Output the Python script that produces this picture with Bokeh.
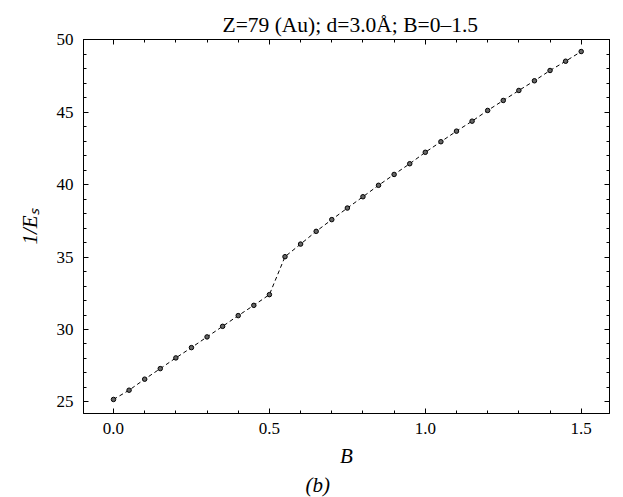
from bokeh.plotting import figure
from bokeh.models import (LinearAxis, SingleIntervalTicker, Range1d, Title,
                          PrintfTickFormatter, ColumnDataSource)
from bokeh.embed import file_html
from bokeh.resources import INLINE

# ---- data ----
B_values = [0.00, 0.05, 0.10, 0.15, 0.20, 0.25, 0.30, 0.35, 0.40, 0.45, 0.50,
            0.55, 0.60, 0.65, 0.70, 0.75, 0.80, 0.85, 0.90, 0.95, 1.00,
            1.05, 1.10, 1.15, 1.20, 1.25, 1.30, 1.35, 1.40, 1.45, 1.50]
inv_Es = [25.17, 25.81, 26.57, 27.30, 28.04, 28.75, 29.49, 30.22, 30.96, 31.67, 32.41,
          35.03, 35.90, 36.78, 37.59, 38.39, 39.17, 39.96, 40.71, 41.45, 42.24,
          42.97, 43.70, 44.39, 45.13, 45.82, 46.51, 47.18, 47.89, 48.53, 49.20]
x_ticks_interval = 0.5
y_ticks_interval = 5
title_text = "Z=79 (Au); d=3.0Å; B=0–1.5"
x_label = "B"
y_label = "1/Eₛ"
caption_text = "(b)"

FONT = "Liberation Serif"

X0, X1 = -0.0962, 1.5907
Y0, Y1 = 24.2, 50.03
W, H = 615, 497
FL, FR, FT, FB = 83, 609, 39, 413   # frame on the canvas

p = figure(width=W, height=H, output_backend="svg", toolbar_location=None,
           x_range=Range1d(X0, X1), y_range=Range1d(Y0, Y1),
           min_border_left=FL, min_border_top=FT,
           min_border_right=W - FR, min_border_bottom=H - FB,
           x_axis_location=None, y_axis_location=None)
p.grid.visible = False
p.outline_line_color = "black"
p.outline_line_width = 1
p.background_fill_color = "white"
p.border_fill_color = "white"

xt = SingleIntervalTicker(interval=x_ticks_interval, num_minor_ticks=5)
yt = SingleIntervalTicker(interval=y_ticks_interval, num_minor_ticks=5)

xaxis = LinearAxis(ticker=xt, formatter=PrintfTickFormatter(format="%.1f"),
                   axis_label=x_label)
yaxis = LinearAxis(ticker=yt, axis_label=y_label)
top = LinearAxis(ticker=xt)
right = LinearAxis(ticker=yt)
p.add_layout(xaxis, "below")
p.add_layout(yaxis, "left")
p.add_layout(top, "above")
p.add_layout(right, "right")

for ax in (xaxis, yaxis, top, right):
    ax.major_tick_in = 5
    ax.major_tick_out = 0
    ax.minor_tick_in = 3
    ax.minor_tick_out = 0
    ax.axis_line_color = "black"
    ax.major_tick_line_color = "black"
    ax.minor_tick_line_color = "black"
    ax.major_label_text_font = FONT
    ax.major_label_text_font_size = "17px"
    ax.major_label_text_color = "black"
    ax.axis_label_text_font = FONT
    ax.axis_label_text_font_style = "italic"
    ax.axis_label_text_font_size = "21px"
    ax.axis_label_text_color = "black"

# mirror axes: ticks only, no labels drawn
for ax in (top, right):
    ax.major_label_text_font_size = "0px"
    ax.major_label_text_color = None
    ax.major_label_standoff = 0

xaxis.major_label_standoff = 9
yaxis.major_label_standoff = 10
xaxis.axis_label_standoff = 7
yaxis.axis_label_standoff = 12

title = Title(text=title_text, text_font=FONT, text_font_size="21.5px",
              text_font_style="normal", text_color="black", align="left",
              offset=222 - FL, standoff=6)
p.add_layout(title, "above")

caption = Title(text=caption_text, text_font=FONT, text_font_size="21px",
                text_font_style="italic", text_color="black", align="left",
                offset=305 - FL, standoff=0)
p.add_layout(caption, "below")

src = ColumnDataSource(dict(B=B_values, v=inv_Es))
p.line("B", "v", source=src, line_color="black", line_width=1, line_dash="4 3")
p.scatter("B", "v", source=src, size=4.5, marker="circle", line_color="black",
          fill_color="#666666", line_width=1)

open("out.html", "w").write(file_html(p, INLINE))
